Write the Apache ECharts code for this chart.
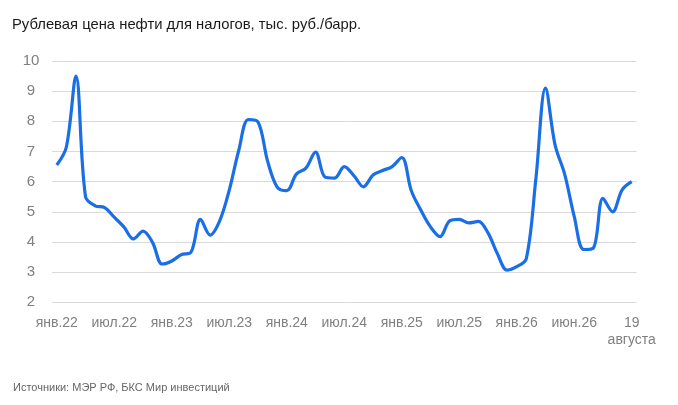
<!DOCTYPE html>
<html>
<head>
<meta charset="utf-8">
<script src="https://cdn.jsdelivr.net/npm/echarts@6/dist/echarts.min.js"></script>
<style>
html,body{margin:0;padding:0;background:#fff;}
#c{width:678px;height:405px;}
</style>
</head>
<body>
<div id="c"></div>
<script>
// Tick labels shown every 6th point
var tickLabels = ['янв.22','июл.22','янв.23','июл.23','янв.24','июл.24','янв.25','июл.25','янв.26','июн.26','19\nавгуста'];
// Series values (тыс. руб./барр.)
var values = [
  6.55, 7.15, 9.5, 5.5, 5.2, 5.14, 4.82, 4.5, 4.1, 4.36,
  3.98, 3.27, 3.37, 3.58, 3.66, 4.75, 4.23, 4.7, 5.72, 7.05,
  8.06, 7.98, 6.68, 5.82, 5.7, 6.25, 6.45, 6.98, 6.15, 6.12,
  6.5, 6.2, 5.83, 6.22, 6.37, 6.5, 6.8, 5.7, 5.05, 4.5,
  4.18, 4.7, 4.75, 4.63, 4.68, 4.3, 3.6, 3.07, 3.18, 3.45,
  6.1, 9.1, 7.22, 6.25, 4.85, 3.75, 3.8, 5.45, 5.0, 5.73,
  6.0
];
// Annotated points: index -> label
var annotations = {51: '9,1', 60: '6,0'};

var categories = values.map(function(_, i){ return String(i); });

var chart = echarts.init(document.getElementById('c'), null, {renderer:'canvas'});
chart.setOption({
  animation: false,
  backgroundColor: '#ffffff',
  title: [{
    text: 'Рублевая цена нефти для налогов, тыс. руб./барр.',
    left: 12, top: 17, padding: 0,
    textStyle: {fontFamily: 'Liberation Sans, Arial, sans-serif', fontSize: 14.8, fontWeight: 'normal', color: '#1a1a1a'}
  },{
    text: 'Источники: МЭР РФ, БКС Мир инвестиций',
    left: 13, top: 382, padding: 0,
    textStyle: {fontFamily: 'Liberation Sans, Arial, sans-serif', fontSize: 11, fontWeight: 'normal', color: '#666666'}
  }],
  grid: {left: 52, right: 41.5, top: 61, bottom: 102.7, containLabel: false},
  xAxis: {
    type: 'category',
    data: categories,
    boundaryGap: true,
    axisLine: {show: false},
    axisTick: {show: false},
    axisLabel: {
      interval: 5,
      margin: 12,
      color: '#808080',
      fontFamily: 'Liberation Sans, Arial, sans-serif',
      fontSize: 14,
      lineHeight: 17,
      formatter: function(v, idx){ return tickLabels[Math.round(idx/6)] || ''; }
    }
  },
  yAxis: {
    type: 'value',
    min: 2, max: 10, interval: 1,
    axisLine: {show: false},
    axisTick: {show: false},
    splitLine: {lineStyle: {color: '#d9d9d9', width: 1}},
    axisLabel: {
      align: 'center',
      margin: 21,
      color: '#808080',
      fontFamily: 'Liberation Sans, Arial, sans-serif',
      fontSize: 15
    }
  },
  series: [{
    type: 'line',
    data: values.map(function(v, i){
      if (annotations[i]) {
        return {value: v, label: {show: true, formatter: annotations[i], position: 'right', distance: 12, offset: [0, i === 60 ? -16 : 3], color: '#333333', fontFamily: 'Liberation Sans, Arial, sans-serif', fontSize: 15}};
      }
      return v;
    }),
    smooth: 0.35,
    symbol: 'none',
    lineStyle: {color: '#1a6ee6', width: 3.2},
    itemStyle: {color: '#1a6ee6'}
  }]
});
</script>
</body>
</html>
